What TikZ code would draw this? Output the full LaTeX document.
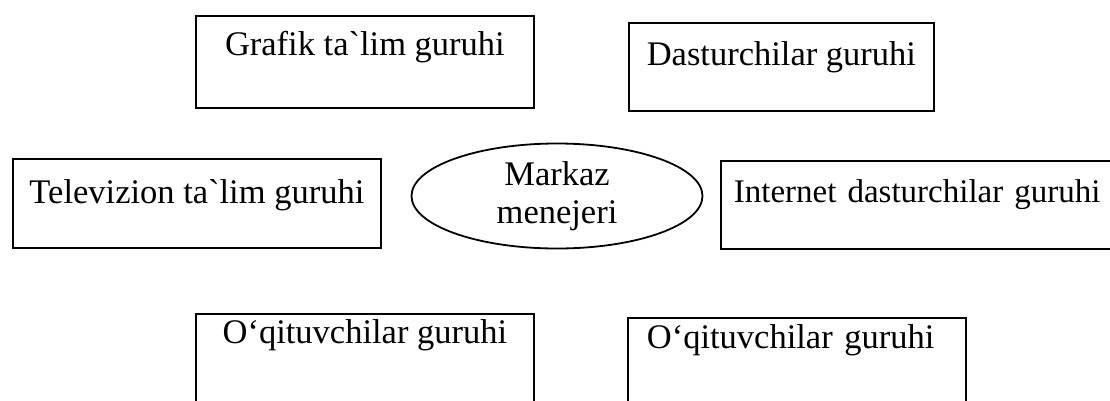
\documentclass[tikz,border=0pt]{standalone}
\usepackage{fontspec}
\setmainfont{Liberation Serif}[Ligatures=TeXOff]
\usetikzlibrary{shapes.geometric}
\begin{document}
\begin{tikzpicture}[x=1pt,y=-1pt,
  grp/.style={draw=black, line width=1.8pt, rectangle, inner sep=0pt, anchor=north west,
    font=\fontsize{34.5}{38}\selectfont},
  mgr/.style={draw=black, line width=1.8pt, ellipse, inner sep=0pt, align=center,
    font=\fontsize{34.5}{38}\selectfont}]
\useasboundingbox (0,0) rectangle (1110,400);
\node[grp, minimum width=338pt, text height=40pt, text depth=52pt] (grafik) at (195,15) {Grafik ta`lim guruhi};
\node[grp, minimum width=305pt, text height=43pt, text depth=45pt] (dastur) at (628,22) {Dasturchilar guruhi};
\node[grp, minimum width=368pt, text height=45pt, text depth=44pt] (telev) at (12,158) {Televizion ta`lim guruhi};
\node[grp, font=\fontsize{33}{38}\selectfont, inner xsep=13pt, text width=390pt, align=left, text height=42pt, text depth=46pt] (internet) at (720,160) {Internet dasturchilar guruhi};
\node[grp, minimum width=338pt, text height=30pt, text depth=100pt] (oqit1) at (195,313) {O‘qituvchilar guruhi};
\node[grp, inner xsep=19pt, text width=300pt, align=left, text height=31pt, text depth=100pt] (oqit2) at (627,317) {O‘qituvchilar guruhi};
\node[mgr, minimum width=291pt, minimum height=105pt] (markaz) at (557,196) {Markaz\\menejeri};
\end{tikzpicture}
\end{document}
